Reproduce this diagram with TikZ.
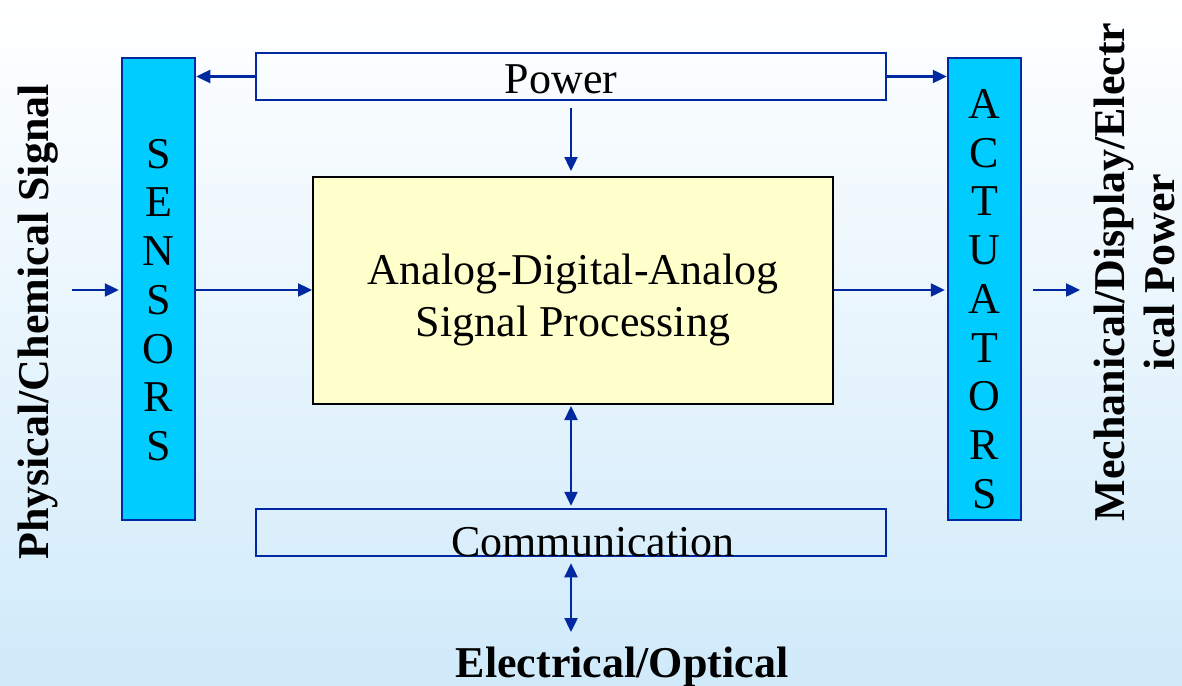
\documentclass[tikz,border=0pt]{standalone}
\usepackage{fontspec}
\setmainfont{Liberation Serif}
\usetikzlibrary{arrows.meta}
\definecolor{arrblue}{RGB}{0,40,160}
\definecolor{sensfill}{RGB}{0,204,255}
\definecolor{mainfill}{RGB}{255,255,204}
\definecolor{bgbottom}{RGB}{208,234,250}
\begin{document}
\begin{tikzpicture}[x=1pt,y=-1pt,
  lbl/.style={font=\fontsize{44}{48.75}\selectfont, inner sep=0pt, align=center},
  blbl/.style={font=\fontsize{44}{50}\selectfont\bfseries, inner sep=0pt, align=center},
  sidebox/.style={draw=arrblue, fill=sensfill, line width=2.5pt, minimum width=73pt, minimum height=462pt, inner sep=0pt},
  barbox/.style={draw=arrblue, line width=2.5pt, minimum width=630pt, minimum height=47pt, inner sep=0pt},
  mainbox/.style={draw=black, fill=mainfill, line width=2pt, minimum width=520pt, minimum height=227pt, inner sep=0pt},
  arr/.style={draw=arrblue, line width=2.4pt, -{Triangle[length=14pt,width=13pt]}},
  darr/.style={draw=arrblue, line width=2.4pt, {Triangle[length=14pt,width=13pt]}-{Triangle[length=14pt,width=13pt]}}
]
\useasboundingbox (0,0) rectangle (1182,685);
\shade[top color=white, bottom color=bgbottom] (0,0) rectangle (1182,685);

% boxes
\node[sidebox] (sens) at (158.5,289) {};
\node[sidebox] (act) at (984.5,289) {};
\node[barbox] (pow) at (571,76.5) {};
\node[barbox] (comm) at (571,532.5) {};
\node[mainbox] (main) at (573,290.5) {};

% texts
\node[lbl] (senstext) at (158.5,300) {S\\E\\N\\S\\O\\R\\S};
\node[lbl] (acttext) at (984.5,299) {A\\C\\T\\U\\A\\T\\O\\R\\S};
\node[lbl, anchor=base] (powtext) at (561,93) {Power};
\node[lbl, anchor=base] (commtext) at (593,556) {Communication};
\node[lbl, font=\fontsize{44}{52}\selectfont] (maintext) at (573,300) {Analog-Digital-Analog\\Signal Processing};
\node[blbl, rotate=90] (inlabel) at (38,322) {Physical/Chemical Signal};
\node[blbl, rotate=90] (outlabel) at (1134,272) {Mechanical/Display/Electr\\ical Power};
\node[blbl, anchor=base] (botlabel) at (622,677) {Electrical/Optical};

% connector end points
\coordinate (inpt) at (72,290);
\coordinate (outpt) at (1080,290);
\coordinate (botpt) at (571,632);

% connectors
\draw[arr] (pow.west) -- (sens.east |- pow.west);
\draw[arr] (pow.east) -- (act.west |- pow.east);
\draw[arr, shorten <=7pt, shorten >=5pt] (pow.south) -- (pow.south |- main.north);
\draw[arr, shorten >=2pt] (inpt) -- (sens.west |- inpt);
\draw[arr] (sens.east |- inpt) -- (main.west |- inpt);
\draw[arr, shorten >=2pt] (main.east |- inpt) -- (act.west |- inpt);
\draw[arr, shorten <=11pt] (act.east |- outpt) -- (outpt);
\draw[darr, shorten <=1pt, shorten >=2pt] (pow.south |- main.south) -- (pow.south |- comm.north);
\draw[darr, shorten <=6pt] (comm.south) -- (botpt);
\end{tikzpicture}
\end{document}
